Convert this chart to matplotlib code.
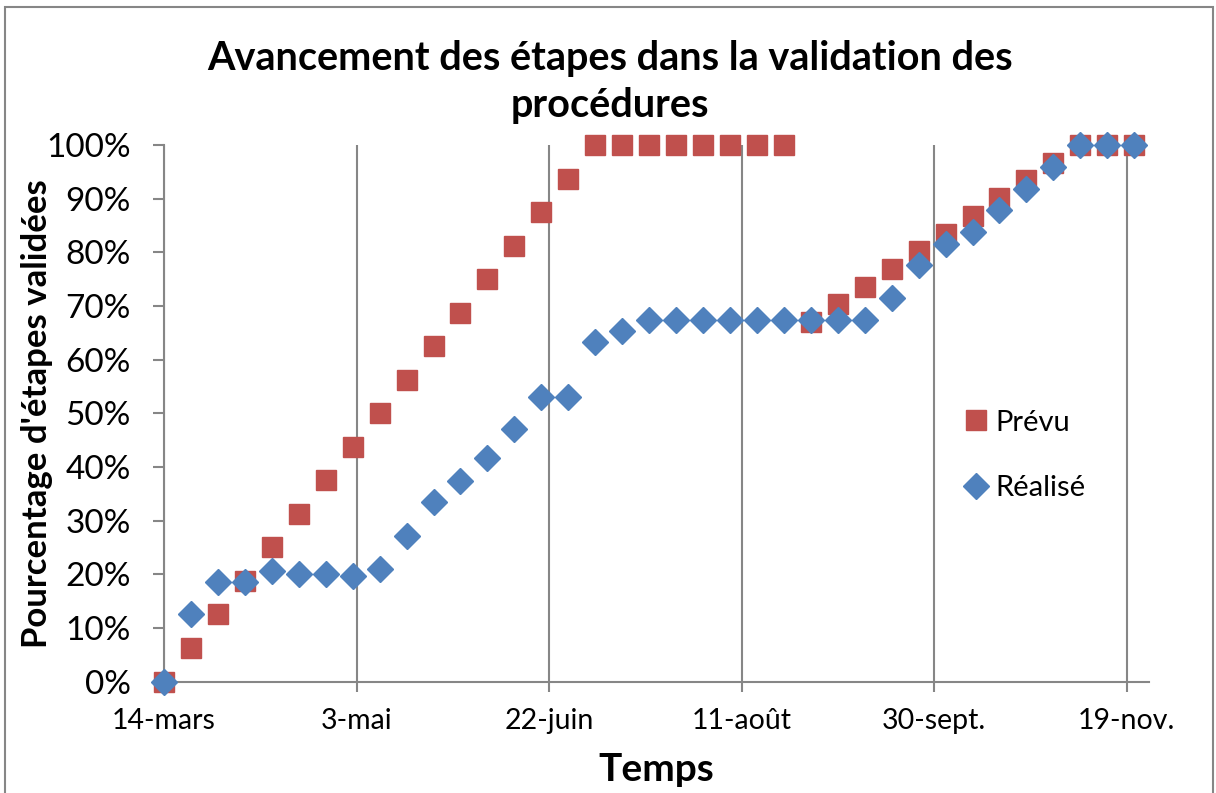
import matplotlib
matplotlib.use("Agg")
import matplotlib.pyplot as plt
import pandas as pd
from matplotlib.patches import Rectangle

plt.rcParams['font.family'] = ['Lato', 'DejaVu Sans']

dates = pd.date_range('2011-03-14', periods=37, freq='7D')

prevu = [0, 6.25, 12.5, 18.75, 25, 31.25, 37.5, 43.75, 50, 56.25, 62.5, 68.75,
         75, 81.25, 87.5, 93.75, 100, 100, 100, 100, 100, 100, 100, 100,
         67.0, 70.3, 73.6, 76.9, 80.2, 83.5, 86.8, 90.1, 93.4, 96.7, 100, 100, 100]

realise = [0, 12.5, 18.5, 18.5, 20.6, 20.1, 20.1, 19.6, 20.9, 27.1, 33.4, 37.4,
           41.7, 47.0, 53.1, 53.1, 63.3, 65.3, 67.3, 67.3, 67.3, 67.3, 67.3, 67.3,
           67.3, 67.3, 67.3, 71.4, 77.6, 81.6, 83.7, 87.8, 91.8, 95.9, 100, 100, 100]

tick_dates = pd.to_datetime(['2011-03-14', '2011-05-03', '2011-06-22',
                             '2011-08-11', '2011-09-30', '2011-11-19'])
tick_labels = ['14-mars', '3-mai', '22-juin', '11-août', '30-sept.', '19-nov.']
y_ticks = [0, 10, 20, 30, 40, 50, 60, 70, 80, 90, 100]

RED = '#C0504D'
BLUE = '#4F81BD'
GRAY = '#868686'

W, H = 1216, 793
fig = plt.figure(figsize=(W / 100, H / 100), dpi=100)
fig.patches.append(Rectangle((5 / W, -0.01), (1213 - 5) / W, 1 - 7 / H + 0.01,
                             transform=fig.transFigure, fill=False,
                             edgecolor=GRAY, linewidth=1.5))

left, right, top, bottom = 164, 1149, 145, 681.5
ax = fig.add_axes([left / W, 1 - bottom / H, (right - left) / W, (bottom - top) / H])

ax.plot(dates, prevu, linestyle='none', marker='s', markersize=14.5,
        color=RED, markeredgecolor=RED, label='Prévu', zorder=3, clip_on=False)
ax.plot(dates, realise, linestyle='none', marker='D', markersize=13,
        color=BLUE, markeredgecolor=BLUE, label='Réalisé', zorder=4, clip_on=False)

ax.set_xlim(pd.Timestamp('2011-03-14'), pd.Timestamp('2011-11-24') + pd.Timedelta(days=20 / 24))
ax.set_ylim(0, 100)

ax.set_xticks(tick_dates)
ax.set_xticklabels(tick_labels, fontsize=20.5)
ax.set_yticks(y_ticks)
ax.set_yticklabels([f'{v}%' for v in y_ticks], fontsize=24)

ax.grid(axis='x', color=GRAY, linewidth=1.5)
ax.set_axisbelow(True)
for s in ['top', 'right']:
    ax.spines[s].set_visible(False)
for s in ['left', 'bottom']:
    ax.spines[s].set_color(GRAY)
    ax.spines[s].set_linewidth(1.5)
ax.tick_params(axis='y', direction='out', length=8, width=1.5, color=GRAY, pad=16)
ax.tick_params(axis='x', direction='out', length=7, width=1.5, color=GRAY, pad=12)

ax.set_xlabel('Temps', fontsize=28, fontweight='bold', labelpad=13)
ax.set_ylabel("Pourcentage d'étapes validées", fontsize=25, fontweight='bold', labelpad=-5)

fig.text(610 / W, 1 - 82 / H, 'Avancement des étapes dans la validation des\nprocédures',
         ha='center', va='center', fontsize=28.5, fontweight='bold', linespacing=1.35)

leg = ax.legend(loc='upper left', bbox_to_anchor=((950 - left) / (right - left), (bottom - 398) / (bottom - top)),
                frameon=False, fontsize=21, handletextpad=0.15, labelspacing=1.35,
                handlelength=1.0, borderaxespad=0)

fig.savefig('out.png', dpi=100)
